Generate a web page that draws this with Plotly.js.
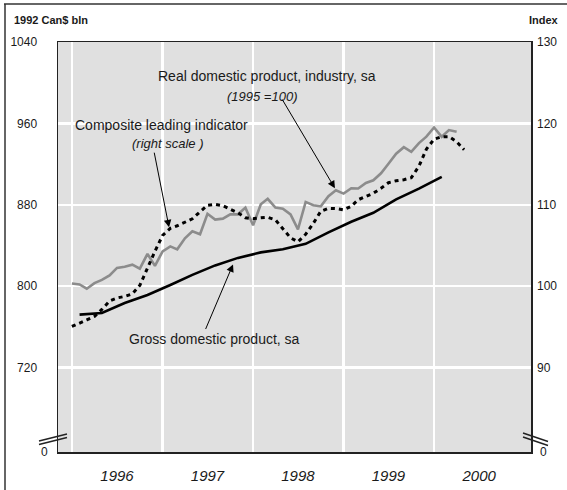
<!DOCTYPE html>
<html>
<head>
<meta charset="utf-8">
<script src="https://cdn.plot.ly/plotly-3.0.1.min.js"></script>
<style>html,body{margin:0;padding:0;background:#fff;}</style>
</head>
<body>
<div id="chart" style="width:567px;height:490px;"></div>
<script>
// ---- data ----
const years = ['1996', '1997', '1998', '1999', '2000'];
const startYear = 1996;

// Real domestic product, industry, sa (monthly, Jan 1996 - Apr 2000), left scale
const realDomestic = [802.7, 801.7, 797.5, 803.0, 806.2, 810.6, 818.0, 819.0, 821.1, 817.2, 831.8, 820.0,
  834.2, 839.1, 836.2, 847.0, 853.9, 851.0, 871.1, 865.4, 866.4, 870.6, 870.6, 877.2,
  859.8, 880.5, 885.9, 877.2, 876.1, 870.6, 855.9, 882.8, 879.5, 878.5, 888.4, 894.3,
  891.0, 896.2, 896.0, 901.5, 904.1, 911.0, 920.4, 930.2, 936.6, 932.0, 940.6, 947.0,
  956.0, 946.8, 953.4, 951.7];

// Composite leading indicator (monthly, Jan 1996 - May 2000), right scale
const leadingIndicator = [95.05, 95.42, 95.85, 96.28, 97.14, 98.18, 98.55, 98.74, 99.05, 100.09, 102.31, 104.28,
  106.25, 107.11, 107.42, 107.85, 108.28, 109.14, 109.94, 110.06, 109.88, 109.45, 109.02, 108.40,
  108.30, 108.40, 108.46, 108.15, 107.05, 105.94, 105.45, 106.37, 107.72, 109.20, 109.57, 109.53,
  109.38, 109.82, 110.62, 110.98, 111.42, 112.03, 112.71, 112.95, 113.08, 113.32, 114.74, 116.83,
  118.06, 118.37, 118.37, 117.75, 116.77];

// Gross domestic product, sa (quarterly, Q1 1996 - Q1 2000), left scale
const gdp = [772.0, 773.7, 783.5, 791.4, 801.2, 811.1, 820.4, 827.8, 833.2, 836.2, 841.6, 852.9,
  863.3, 872.1, 885.4, 895.8, 907.4];

const leftTicks = [720, 800, 880, 960, 1040];
const rightTicks = [90, 100, 110, 120, 130];

// ---- helpers ----
function pad(n) { return (n < 10 ? '0' : '') + n; }
function monthDate(i) {
  const y = startYear + Math.floor(i / 12);
  const m = (i % 12) + 1;
  return y + '-' + pad(m) + '-01';
}
const monthlyX1 = realDomestic.map((_, i) => monthDate(i));
const monthlyX2 = leadingIndicator.map((_, i) => monthDate(i));
const quarterX = gdp.map((_, i) => monthDate(1 + 3 * i));
const yearStarts = years.map(y => y + '-01-01');
const yearMids = years.map(y => y + '-07-01');

// plot-area geometry (pixels) for decorations in paper coords
const W = 567, H = 490, ML = 58, MR = 36, MT = 42, MB = 38;
const PW = W - ML - MR, PH = H - MT - MB;
const px = x => (x - ML) / PW;
const py = y => (H - MB - y) / PH;

const FONT = '"Liberation Sans", Arial, Helvetica, sans-serif';
const INK = '#1a1a1a';

const traces = [
  {
    x: monthlyX1, y: realDomestic, type: 'scatter', mode: 'lines',
    line: { color: '#8c8c8c', width: 2.6 }, name: 'Real domestic product, industry, sa',
    yaxis: 'y'
  },
  {
    x: quarterX, y: gdp, type: 'scatter', mode: 'lines',
    line: { color: '#000000', width: 2.6 }, name: 'Gross domestic product, sa',
    yaxis: 'y'
  },
  {
    x: monthlyX2, y: leadingIndicator, type: 'scatter', mode: 'lines',
    line: { color: '#000000', width: 3, dash: '4px,4px' }, name: 'Composite leading indicator',
    yaxis: 'y2'
  }
];

const breakLine = (x0, y0, x1, y1) => ({
  type: 'line', xref: 'paper', yref: 'paper',
  x0: px(x0), y0: py(y0), x1: px(x1), y1: py(y1),
  line: { color: '#222', width: 1.4 }, layer: 'above'
});

const layout = {
  width: W, height: H,
  margin: { l: ML, r: MR, t: MT, b: MB },
  paper_bgcolor: '#ffffff',
  plot_bgcolor: '#e0e0e0',
  showlegend: false,
  font: { family: FONT, color: INK, size: 12 },
  xaxis: {
    type: 'date',
    range: ['1995-11-06', '2001-01-26'],
    tickmode: 'array', tickvals: yearMids, ticktext: years,
    ticks: '', showgrid: false, zeroline: false,
    tickfont: { size: 15, style: 'italic', color: INK },
    ticklabelstandoff: 9,
    showline: true, linecolor: '#222', linewidth: 1.5, mirror: true,
    minor: { tickmode: 'array', tickvals: yearStarts, showgrid: true, gridcolor: '#ffffff', gridwidth: 2.5, ticks: '' },
    fixedrange: true
  },
  yaxis: {
    range: [637, 1040],
    tickmode: 'array', tickvals: leftTicks,
    ticks: '', showgrid: true, gridcolor: '#ffffff', gridwidth: 2.5, zeroline: false,
    tickfont: { size: 12, color: INK },
    ticklabelstandoff: 17,
    showline: true, linecolor: '#222', linewidth: 1.5, mirror: true,
    fixedrange: true
  },
  yaxis2: {
    overlaying: 'y', side: 'right',
    range: [79.625, 130],
    tickmode: 'array', tickvals: rightTicks,
    ticks: '', showgrid: false, zeroline: false, showline: false,
    tickfont: { size: 12, color: INK },
    ticklabelstandoff: 5,
    fixedrange: true
  },
  shapes: [
    // outer frame (left and top edges)
    { type: 'line', xref: 'paper', yref: 'paper', x0: px(5), y0: py(4), x1: px(5), y1: py(490), line: { color: '#333', width: 1.5 } },
    { type: 'line', xref: 'paper', yref: 'paper', x0: px(4), y0: py(4), x1: px(567), y1: py(4), line: { color: '#333', width: 1.5 } },
    // axis break marks
    breakLine(39, 441, 67, 434), breakLine(39, 444.5, 67, 437.5),
    breakLine(523, 433, 548, 441.5), breakLine(523, 437, 548, 445.5)
  ],
  annotations: [
    { xref: 'paper', yref: 'paper', x: px(12), y: py(20), xanchor: 'left', yanchor: 'middle', showarrow: false,
      text: '<b>1992 Can$ bln</b>', font: { size: 11, color: INK } },
    { xref: 'paper', yref: 'paper', x: px(561), y: py(20), xanchor: 'right', yanchor: 'middle', showarrow: false,
      text: '<b>Index</b>', font: { size: 11, color: INK } },
    { xref: 'paper', yref: 'paper', x: px(44.7), y: py(452), xanchor: 'center', yanchor: 'middle', showarrow: false,
      text: '0', font: { size: 12, color: INK } },
    { xref: 'paper', yref: 'paper', x: px(543), y: py(452), xanchor: 'center', yanchor: 'middle', showarrow: false,
      text: '0', font: { size: 12, color: INK } },
    // series labels
    { xref: 'x', yref: 'y', x: '1996-12-05', y: 1006.5, xanchor: 'left', yanchor: 'middle', showarrow: false,
      text: 'Real domestic product, industry, sa', font: { size: 14, color: INK } },
    { xref: 'x', yref: 'y', x: '1998-02-05', y: 986.8, xanchor: 'center', yanchor: 'middle', showarrow: false,
      text: '(1995 =100)', font: { size: 13, style: 'italic', color: INK } },
    { xref: 'x', yref: 'y', x: '1996-01-05', y: 958.3, xanchor: 'left', yanchor: 'middle', showarrow: false,
      text: 'Composite leading indicator', font: { size: 14, color: INK } },
    { xref: 'x', yref: 'y', x: '1997-01-23', y: 940.5, xanchor: 'center', yanchor: 'middle', showarrow: false,
      text: '(right scale )', font: { size: 13, style: 'italic', color: INK } },
    { xref: 'x', yref: 'y', x: '1996-08-10', y: 747.6, xanchor: 'left', yanchor: 'middle', showarrow: false,
      text: 'Gross domestic product, sa', font: { size: 14, color: INK } },
    // arrows
    { xref: 'x', yref: 'y', x: '1998-11-27', y: 896.2, axref: 'x', ayref: 'y', ax: '1998-04-25', ay: 985.0,
      text: '', showarrow: true, arrowhead: 2, arrowsize: 1.5, arrowwidth: 1, arrowcolor: '#000' },
    { xref: 'x', yref: 'y', x: '1997-01-27', y: 857.8, axref: 'x', ayref: 'y', ax: '1996-11-27', ay: 932.7,
      text: '', showarrow: true, arrowhead: 2, arrowsize: 1.5, arrowwidth: 1, arrowcolor: '#000' },
    { xref: 'x', yref: 'y', x: '1997-10-12', y: 821.4, axref: 'x', ayref: 'y', ax: '1997-06-21', ay: 756.4,
      text: '', showarrow: true, arrowhead: 2, arrowsize: 1.5, arrowwidth: 1, arrowcolor: '#000' }
  ]
};

Plotly.newPlot('chart', traces, layout, { displayModeBar: false, staticPlot: true });
</script>
</body>
</html>
